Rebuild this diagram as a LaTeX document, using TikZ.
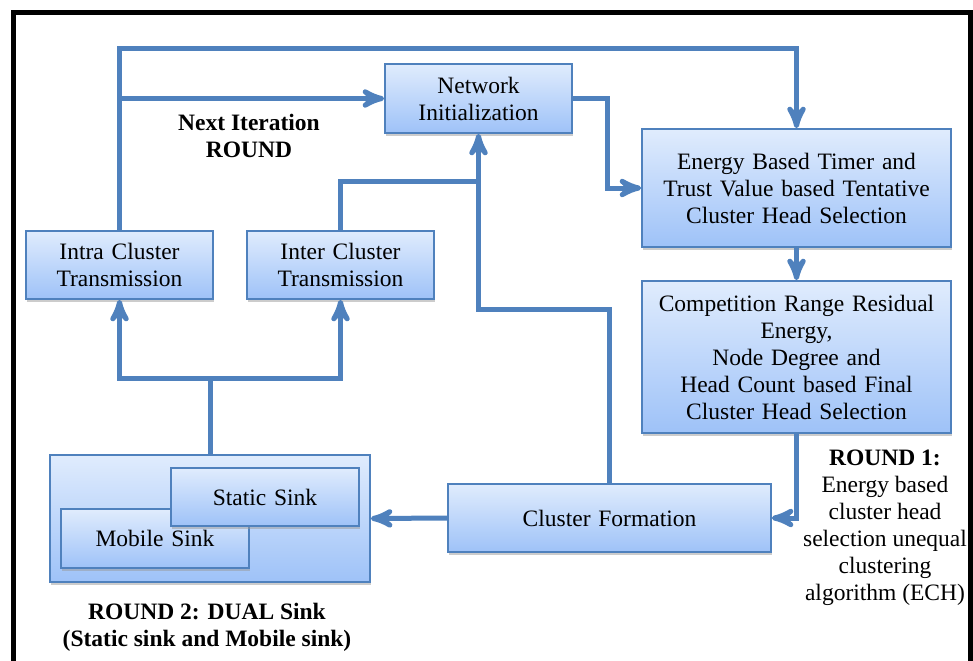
\documentclass[tikz,border=0pt]{standalone}
\usepackage{fontspec}
\setmainfont{Liberation Serif}
\usetikzlibrary{arrows,shapes,shadows}
\definecolor{flowblue}{RGB}{79,129,189}
\definecolor{boxtop}{RGB}{224,236,253}
\definecolor{boxbottom}{RGB}{158,194,248}
\newcommand{\labelsize}{\fontsize{11.75}{13.5}\selectfont}
\tikzstyle{block}=[draw=flowblue,line width=0.8pt,top color=boxtop,bottom color=boxbottom,align=center,inner sep=0pt,drop shadow={shadow xshift=0.5pt,shadow yshift=-1.4pt,fill=black!40}]
\tikzstyle{flow} = [draw=flowblue,line width=2.5pt,-stealth']
\tikzstyle{link} = [draw=flowblue,line width=2.5pt,-]
\tikzstyle{note}=[align=center,font=\labelsize\bfseries]

\begin{document}
\begin{tikzpicture}[x=0.5pt,y=-0.5pt,font=\labelsize]
    \useasboundingbox (0,0) rectangle (973,660);
    % Outer frame, open at the bottom
    \draw[line width=2.5pt] (13,670) -- (13,12) -- (970,12) -- (970,670);
    % First we draw the boxes
    \foreach \pos/\name/\w/\h/\txt in {{(478.5,98.5)/init/93.5pt/34.5pt/{Network\\Initialization}},
        {(796.5,188)/timer/154.5pt/59pt/{Energy Based Timer and\\Trust Value based Tentative\\Cluster Head Selection}},
        {(796.5,357)/final/154.5pt/76pt/{Competition Range Residual\\Energy,\\Node Degree and\\Head Count based Final\\Cluster Head Selection}},
        {(119.5,265)/intra/93.5pt/34pt/{Intra Cluster\\Transmission}},
        {(340.5,265)/inter/93.5pt/34pt/{Inter Cluster\\Transmission}},
        {(609.5,518)/form/161.5pt/34pt/{Cluster Formation}},
        {(210,518.5)/dual/160pt/63.5pt/{}},
        {(155,538.5)/mobile/94pt/29.5pt/{Mobile Sink}},
        {(265,497)/static/94pt/29pt/{Static Sink}}}
        \node[block,text width=\w,minimum height=\h] (\name) at \pos {\txt};
    % Helper points for the bends
    \coordinate (rail) at (120,48);
    \coordinate (bend) at (607,98);
    \coordinate (back) at (609.5,309);
    \coordinate (join) at (478.5,181);
    \coordinate (split) at (210,378);
    % Connect the boxes
    \path[flow] (intra.north) -- (intra.north |- rail) -| (timer.north);
    \path[flow] (intra.north |- init.west) -- (init.west);
    \path[flow] (init.east) -- (init.east -| bend) |- (timer.west);
    \path[flow] (timer.south) -- (final.north);
    \path[flow] (final.south) |- (form.east);
    \path[flow] (form.north) |- (back) -| (init.south);
    \path[link] (inter.north) |- (join);
    \path[flow] (form.west) -- (dual.east);
    \path[link] (dual.north) -- (split);
    \path[flow] (split) -| (intra.south);
    \path[flow] (split) -| (inter.south);
    % Labels
    \node[note] (next) at (249,136) {Next Iteration\\ROUND};
    \node[align=center] (round1) at (885,528) {\textbf{ROUND 1:}\\Energy based\\cluster head\\selection unequal\\clustering\\algorithm (ECH)};
    \node[note] (round2) at (207,627) {ROUND 2: DUAL Sink\\(Static sink and Mobile sink)};
\end{tikzpicture}
\end{document}
